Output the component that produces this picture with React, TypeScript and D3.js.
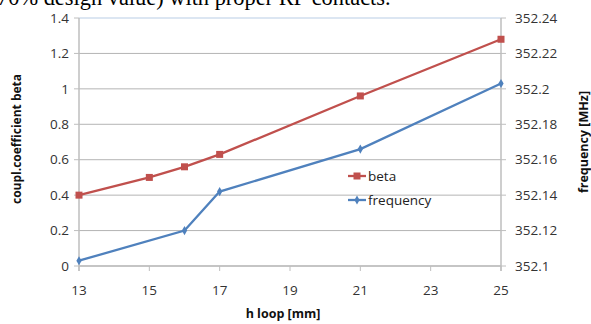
import React from 'react';
import * as d3 from 'd3';

const hLoop = [13, 15, 16, 17, 21, 25];
const betaValues = [0.4, 0.5, 0.56, 0.63, 0.96, 1.28];
const freqLoop = [13, 16, 17, 21, 25];
const freqValues = [352.103, 352.12, 352.142, 352.166, 352.203];
const xTicks = [13, 15, 17, 19, 21, 23, 25];
const leftTicks = [0, 0.2, 0.4, 0.6, 0.8, 1, 1.2, 1.4];
const rightTicks = [352.1, 352.12, 352.14, 352.16, 352.18, 352.2, 352.22, 352.24];

const RED = '#C0504D';
const BLUE = '#4F81BD';
const FONT = '"Open Sans", "DejaVu Sans", sans-serif';

function App() {
  const width = 591, height = 324;
  const margin = { top: 18, right: 90, bottom: 58, left: 79 };

  const x = d3.scaleLinear().domain([13, 25]).range([margin.left, width - margin.right]);
  const yL = d3.scaleLinear().domain([0, 1.4]).range([height - margin.bottom, margin.top]);
  const yR = d3.scaleLinear().domain([352.1, 352.24]).range([height - margin.bottom, margin.top]);

  const betaLine = d3.line<number>().x((d, i) => x(hLoop[i])).y(d => yL(d));
  const freqLine = d3.line<number>().x((d, i) => x(freqLoop[i])).y(d => yR(d));

  const x0 = x(13), x1 = x(25), yBottom = yL(0);

  return (
    <svg width={width} height={height} style={{ position: 'absolute', left: 0, top: 0, background: '#fff' }}>
      <text x={-3} y={5} fontFamily='"Liberation Serif", serif' fontSize={22.4} fill="#000">
        70% design value) with proper RF contacts.
      </text>

      {leftTicks.map(t => (
        <line key={'g' + t} x1={x0} x2={x1} y1={yL(t)} y2={yL(t)}
          stroke={t === 1.4 ? '#B9CDE5' : '#B4B4B4'} strokeWidth={1} />
      ))}

      <line x1={x0} x2={x0} y1={yL(1.4)} y2={yBottom + 5} stroke="#BEBEBE" strokeWidth={1.5} />
      <line x1={x1} x2={x1} y1={yL(1.4)} y2={yBottom + 5} stroke="#BEBEBE" strokeWidth={1.5} />
      <line x1={x0} x2={x1} y1={yBottom} y2={yBottom} stroke="#BEBEBE" strokeWidth={1.5} />

      {leftTicks.map(t => (
        <g key={'l' + t}>
          <line x1={x0 - 5} x2={x0} y1={yL(t)} y2={yL(t)} stroke="#BEBEBE" />
          <text x={x0 - 10} y={yL(t)} dy="0.35em" textAnchor="end" fontFamily={FONT} fontSize={13.5} fill="#333">{t}</text>
        </g>
      ))}
      {rightTicks.map(t => (
        <g key={'r' + t}>
          <line x1={x1} x2={x1 + 5} y1={yR(t)} y2={yR(t)} stroke="#BEBEBE" />
          <text x={x1 + 14} y={yR(t)} dy="0.35em" textAnchor="start" fontFamily={FONT} fontSize={13.5} fill="#333">{+t.toFixed(2)}</text>
        </g>
      ))}
      {xTicks.map(t => (
        <g key={'x' + t}>
          <line x1={x(t)} x2={x(t)} y1={yBottom} y2={yBottom + 5} stroke="#BEBEBE" />
          <text x={x(t)} y={yBottom + 29} textAnchor="middle" fontFamily={FONT} fontSize={13.5} fill="#333">{t}</text>
        </g>
      ))}

      <path d={betaLine(betaValues) || ''} fill="none" stroke={RED} strokeWidth={2.3} />
      {betaValues.map((v, i) => (
        <rect key={'b' + i} x={x(hLoop[i]) - 3.5} y={yL(v) - 3.5} width={7} height={7} fill={RED} />
      ))}
      <path d={freqLine(freqValues) || ''} fill="none" stroke={BLUE} strokeWidth={2.3} />
      {freqValues.map((v, i) => (
        <path key={'f' + i} d={d3.symbol(d3.symbolDiamond, 24)() || ''}
          transform={`translate(${x(freqLoop[i])},${yR(v)})`} fill={BLUE} />
      ))}

      <line x1={348} x2={366} y1={176} y2={176} stroke={RED} strokeWidth={2.3} />
      <rect x={353.5} y={172.5} width={7} height={7} fill={RED} />
      <text x={368} y={176} dy="0.35em" fontFamily={FONT} fontSize={13.5} fill="#222">beta</text>
      <line x1={348} x2={366} y1={200} y2={200} stroke={BLUE} strokeWidth={2.3} />
      <path d={d3.symbol(d3.symbolDiamond, 24)() || ''} transform="translate(357,200)" fill={BLUE} />
      <text x={368} y={200} dy="0.35em" fontFamily={FONT} fontSize={13.5} fill="#222">frequency</text>

      <text transform="translate(21,139) rotate(-90)" textAnchor="middle"
        fontFamily={FONT} fontSize={12} fontWeight="bold" fill="#111">coupl.coefficient beta</text>
      <text transform="translate(588,142) rotate(-90)" textAnchor="middle"
        fontFamily={FONT} fontSize={12.5} fontWeight="bold" fill="#111">frequency [MHz]</text>
      <text x={283} y={318} textAnchor="middle" fontFamily={FONT} fontSize={12.5} fontWeight="bold" fill="#111">h loop [mm]</text>
    </svg>
  );
}

export default App;
